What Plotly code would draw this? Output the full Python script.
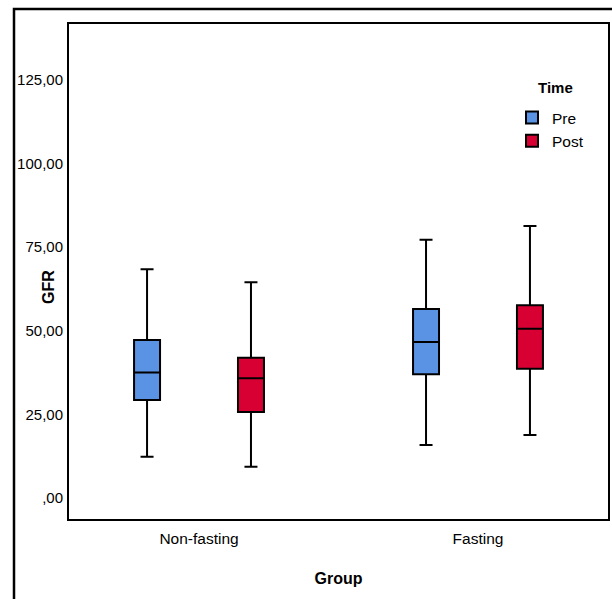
import plotly.graph_objects as go

groups = ["Non-fasting", "Fasting"]
series = ["Pre", "Post"]
colors = ["#5A93E4", "#D80033"]

# box statistics per series, ordered as groups
lower = {"Pre": [12.3, 15.8], "Post": [9.3, 18.8]}
q1 = {"Pre": [29.3, 37.0], "Post": [25.7, 38.6]}
median = {"Pre": [37.5, 46.6], "Post": [35.8, 50.6]}
q3 = {"Pre": [47.2, 56.5], "Post": [41.9, 57.6]}
upper = {"Pre": [68.4, 77.2], "Post": [64.5, 81.3]}

tick_vals = [0, 25, 50, 75, 100, 125]
tick_text = [",00", "25,00", "50,00", "75,00", "100,00", "125,00"]

fig = go.Figure()
for s, c in zip(series, colors):
    fig.add_trace(go.Box(
        name=s, x=groups,
        lowerfence=lower[s], q1=q1[s], median=median[s], q3=q3[s], upperfence=upper[s],
        fillcolor=c, line=dict(color="black", width=2),
        whiskerwidth=0.5, boxpoints=False, hoverinfo="skip",
    ))

L, R, T, B = 69, 4, 24, 80
PW, PH = 612 - L - R, 599 - T - B

font_family = "Liberation Sans, Arial, sans-serif"
fig.update_layout(
    width=612, height=599,
    margin=dict(l=L, r=R, t=T, b=B, autoexpand=False),
    paper_bgcolor="white", plot_bgcolor="white",
    boxmode="group", boxgap=0.255, boxgroupgap=0.75,
    font=dict(family=font_family, size=15, color="black"),
    legend=dict(
        x=(512 - L) / PW, y=1 - (101 - T) / PH, xanchor="left", yanchor="top",
        bgcolor="rgba(0,0,0,0)", font=dict(size=15.5),
        tracegroupgap=0,
    ),
    xaxis=dict(
        type="category", range=[-0.466, 1.466],
        showline=True, linecolor="black", linewidth=2, mirror=True,
        showgrid=False, zeroline=False, ticks="", ticklabelstandoff=4,
        tickfont=dict(size=15.5),
        title=dict(text="<b>Group</b>", font=dict(size=16), standoff=27),
    ),
    yaxis=dict(
        range=[-6.3, 141.7], tickvals=tick_vals, ticktext=tick_text,
        showline=True, linecolor="black", linewidth=2, mirror=True,
        showgrid=False, zeroline=False, ticks="", ticklabelstandoff=1,
    ),
    annotations=[
        dict(text="<b>GFR</b>", xref="paper", yref="paper",
             x=(48 - L) / PW, y=1 - (287 - T) / PH, textangle=-90,
             showarrow=False, font=dict(size=16), xanchor="center", yanchor="middle"),
        dict(text="<b>Time</b>", xref="paper", yref="paper",
             x=(555 - L) / PW, y=1 - (88 - T) / PH,
             showarrow=False, font=dict(size=15), xanchor="center", yanchor="middle"),
    ],
    shapes=[dict(
        type="rect", xref="paper", yref="paper",
        x0=(14 - L) / PW, x1=1.1, y0=-0.3, y1=1 + (T - 9) / PH,
        line=dict(color="black", width=2.5), fillcolor="rgba(0,0,0,0)", layer="below",
    )],
)

fig.write_html("out.html", config={"displayModeBar": False},
               post_script="document.body.style.margin='0';")
